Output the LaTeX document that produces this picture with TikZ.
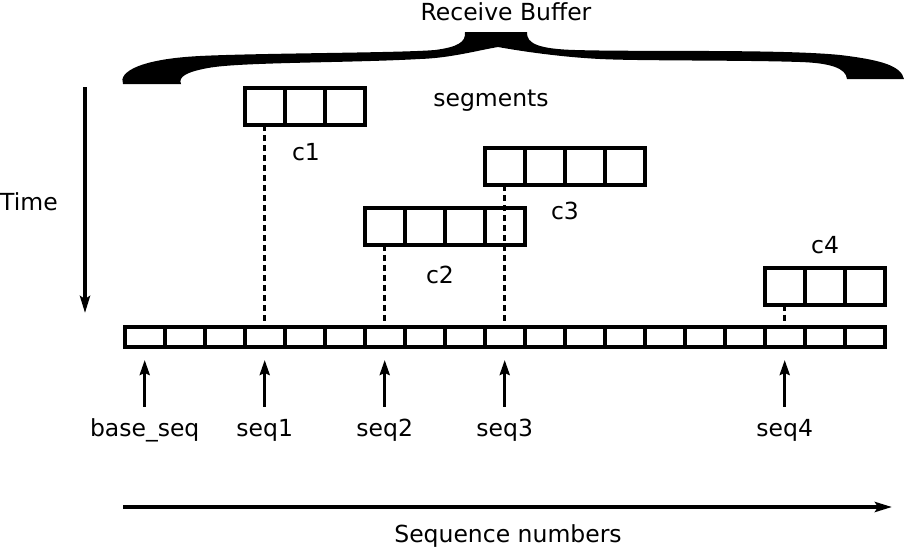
\documentclass[tikz,border=0pt]{standalone}
\usepackage{fontspec}
\setmainfont{DejaVu Sans}
\usetikzlibrary{arrows.meta}
\begin{document}
\begin{tikzpicture}[x=1pt,y=-1pt,
  cell/.style={draw,line width=4pt,minimum width=40pt,inner sep=0pt,outer sep=0pt},
  bufcell/.style={cell,minimum height=20pt},
  segcell/.style={cell,minimum height=37pt},
  lbl/.style={font=\fontsize{23.5}{27}\selectfont,inner sep=0pt},
  ptrlbl/.style={lbl,text height=17pt,text depth=5pt,inner ysep=12pt},
  ptr/.style={line width=3pt,-{Stealth[length=15pt,width=10pt,inset=2pt]},shorten >=13pt},
  link/.style={line width=3pt,dash pattern=on 6pt off 4pt},
  axis/.style={line width=3.5pt,-{Stealth[length=17pt,width=10pt,inset=3pt]}}
]
\useasboundingbox (0,0) rectangle (904,549);

% brace
\fill (123,84)
  .. controls (118,72) and (140,59) .. (200,56)
  .. controls (260,53) and (400,53) .. (435,50)
  .. controls (458,47) and (466,42) .. (465,32)
  -- (527,32)
  .. controls (526,44) and (540,49) .. (575,50)
  .. controls (640,52) and (780,49) .. (840,55)
  .. controls (882,60) and (901,66) .. (904,79)
  -- (847,79)
  .. controls (846,68) and (830,63) .. (800,62)
  .. controls (740,60) and (640,61) .. (600,59)
  .. controls (560,57) and (520,51) .. (498,47)
  .. controls (475,51) and (450,58) .. (420,59)
  .. controls (350,63) and (240,62) .. (208,68)
  .. controls (186,72) and (178,77) .. (181,84)
  -- cycle;
\node[lbl] (rb) at (506,12) {Receive Buffer};

% time axis
\coordinate (t0) at (85,87);
\coordinate (t1) at (85,313);
\draw[axis] (t0) -- (t1);
\node[lbl] (time) at (29,202) {Time};

% buffer
\foreach \i in {0,...,18}
  \node[bufcell] (b\i) at (144.7+40*\i,337) {};

% segments
\foreach \j in {0,1,2}
  \node[segcell] (c1n\j) at (264.7+40*\j,106.7) {};
\foreach \j in {0,...,3}
  \node[segcell] (c3n\j) at (504.7+40*\j,166.7) {};
\foreach \j in {0,...,3}
  \node[segcell] (c2n\j) at (384.7+40*\j,226.3) {};
\foreach \j in {0,1,2}
  \node[segcell] (c4n\j) at (784.7+40*\j,286) {};

\node[lbl] (seglbl) at (491,101) {segments};
\node[lbl] (l1) at (306,152) {c1};
\node[lbl] (l2) at (440,275) {c2};
\node[lbl] (l3) at (565,211) {c3};
\node[lbl] (l4) at (825,245) {c4};

% dashed links
\draw[link] (c1n0.south) -- (b3.north);
\draw[link] (c2n0.south) -- (b6.north);
\draw[link] (c3n0.south) -- (b9.north);
\draw[link] (c4n0.south) -- (b16.north);

% pointers
\node[ptrlbl] (p0) at (144.7,430) {base\_seq};
\node[ptrlbl] (p1) at (264.7,430) {seq1};
\node[ptrlbl] (p2) at (384.7,430) {seq2};
\node[ptrlbl] (p3) at (504.7,430) {seq3};
\node[ptrlbl] (p4) at (784.7,430) {seq4};
\draw[ptr] (p0.north) -- (b0.south);
\draw[ptr] (p1.north) -- (b3.south);
\draw[ptr] (p2.north) -- (b6.south);
\draw[ptr] (p3.north) -- (b9.south);
\draw[ptr] (p4.north) -- (b16.south);

% sequence axis
\coordinate (a0) at (123,507);
\coordinate (a1) at (892,507);
\draw[axis] (a0) -- (a1);
\node[lbl] (seqlbl) at (508,536) {Sequence numbers};
\end{tikzpicture}
\end{document}
